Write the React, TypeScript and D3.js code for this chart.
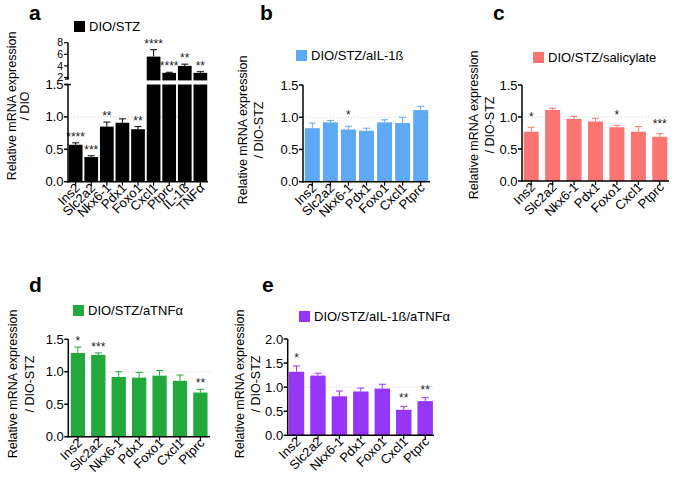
import React, { useRef, useEffect } from 'react';
import * as d3 from 'd3';

// gene labels
const genes = ['Ins2', 'Slc2a2', 'Nkx6-1', 'Pdx1', 'Foxo1', 'Cxcl1', 'Ptprc'];
const genesA = ['Ins2', 'Slc2a2', 'Nkx6-1', 'Pdx1', 'Foxo1', 'Cxcl1', 'Ptprc', 'IL-1ß', 'TNFα'];

// a: DIO/STZ vs DIO
const valuesA = [0.57, 0.38, 0.85, 0.91, 0.81, 5.6, 2.8, 4.0, 2.8];
const errorsA = [0.03, 0.02, 0.07, 0.06, 0.04, 1.2, 0.1, 0.3, 0.2];
const starsA = ['****', '***', '**', '', '**', '****', '****', '**', '**'];

// b: aIL-1ß
const valuesB = [0.83, 0.92, 0.81, 0.79, 0.92, 0.91, 1.11];
const errorsB = [0.08, 0.03, 0.05, 0.04, 0.04, 0.09, 0.06];
const starsB = ['', '', '*', '', '', '', ''];

// c: salicylate
const valuesC = [0.77, 1.11, 0.97, 0.93, 0.84, 0.77, 0.69];
const errorsC = [0.07, 0.03, 0.04, 0.05, 0.03, 0.08, 0.05];
const starsC = ['*', '', '', '', '*', '', '***'];

// d: aTNFα
const valuesD = [1.29, 1.26, 0.92, 0.91, 0.94, 0.86, 0.68];
const errorsD = [0.09, 0.03, 0.08, 0.08, 0.08, 0.09, 0.05];
const starsD = ['*', '***', '', '', '', '', '**'];

// e: aIL-1ß/aTNFα
const valuesE = [1.32, 1.24, 0.81, 0.91, 0.97, 0.53, 0.71];
const errorsE = [0.12, 0.05, 0.11, 0.07, 0.09, 0.07, 0.07];
const starsE = ['*', '', '', '', '', '**', '**'];

const FONT = 'Liberation Sans, Arial, Helvetica, sans-serif';

const drawPanel = (svg, p) => {
  const g = svg.append('g');
  const x = d3
    .scaleBand()
    .domain(p.labels)
    .range([p.x0, p.x1])
    .paddingInner(p.pad)
    .paddingOuter(p.outer);
  const y = d3.scaleLinear().domain(p.domain).range([p.y0, p.yTop]);
  const top = p.domain[1];

  // dotted line at 1.0
  g.append('line')
    .attr('x1', p.x0)
    .attr('x2', p.x1)
    .attr('y1', y(1))
    .attr('y2', y(1))
    .attr('stroke', '#cfcfcf')
    .attr('stroke-width', 1)
    .attr('stroke-dasharray', '1,2');

  const rows = p.labels.map((l, i) => ({ l, v: p.values[i], e: p.errors[i], s: p.stars[i] }));

  // bars (lower segment)
  g.selectAll('.bar')
    .data(rows)
    .enter()
    .append('rect')
    .attr('x', (d) => x(d.l))
    .attr('width', x.bandwidth())
    .attr('y', (d) => y(Math.min(d.v, top)))
    .attr('height', (d) => p.y0 - y(Math.min(d.v, top)))
    .attr('fill', p.color);

  let yUp = null;
  if (p.upper) {
    yUp = d3.scaleLinear().domain(p.upper.domain).range(p.upper.range);
    g.selectAll('.barUp')
      .data(rows.filter((d) => d.v > top))
      .enter()
      .append('rect')
      .attr('x', (d) => x(d.l))
      .attr('width', x.bandwidth())
      .attr('y', (d) => yUp(d.v))
      .attr('height', (d) => yUp(p.upper.domain[0]) - yUp(d.v))
      .attr('fill', p.color);
  }

  const yPos = (v) => (v > top && yUp ? yUp(v) : y(v));

  // error bars, upper half only
  const cap = 3.5;
  rows.forEach((d) => {
    const cx = x(d.l) + x.bandwidth() / 2;
    const yv = yPos(d.v);
    const ye = yPos(d.v + d.e);
    g.append('line')
      .attr('x1', cx).attr('x2', cx)
      .attr('y1', yv).attr('y2', ye)
      .attr('stroke', p.errColor).attr('stroke-width', 1);
    g.append('line')
      .attr('x1', cx - cap).attr('x2', cx + cap)
      .attr('y1', ye).attr('y2', ye)
      .attr('stroke', p.errColor).attr('stroke-width', 1);
    if (d.s) {
      g.append('text')
        .attr('x', cx)
        .attr('y', ye - 2 - p.starGap)
        .attr('text-anchor', 'middle')
        .attr('font-family', FONT)
        .attr('font-size', 12)
        .attr('fill', '#222')
        .text(d.s);
    }
  });

  // y axis
  g.append('line')
    .attr('x1', p.x0).attr('x2', p.x0)
    .attr('y1', p.y0 + 0.75).attr('y2', p.yTop)
    .attr('stroke', '#000').attr('stroke-width', 1.5);
  p.ticks.forEach((t) => {
    g.append('line')
      .attr('x1', p.x0 - 4).attr('x2', p.x0)
      .attr('y1', y(t)).attr('y2', y(t))
      .attr('stroke', '#000').attr('stroke-width', 1.5);
    g.append('text')
      .attr('x', p.x0 - 4.5)
      .attr('y', y(t))
      .attr('dy', '0.35em')
      .attr('text-anchor', 'end')
      .attr('font-family', FONT)
      .attr('font-size', 13)
      .text(d3.format('.1f')(t));
  });

  if (p.upper) {
    const r = p.upper.range;
    g.append('line')
      .attr('x1', p.x0).attr('x2', p.x0)
      .attr('y1', r[0] - 1).attr('y2', r[1])
      .attr('stroke', '#000').attr('stroke-width', 1.5);
    // break marks
    g.append('line')
      .attr('x1', p.x0 - 3).attr('x2', p.x0 + 1)
      .attr('y1', r[0] - 1).attr('y2', r[0] - 2)
      .attr('stroke', '#000').attr('stroke-width', 1.2);
    g.append('line')
      .attr('x1', p.x0 - 3).attr('x2', p.x0 + 3)
      .attr('y1', p.yTop).attr('y2', p.yTop)
      .attr('stroke', '#000').attr('stroke-width', 1.5);
    p.upper.ticks.forEach((t) => {
      g.append('line')
        .attr('x1', p.x0 - 4).attr('x2', p.x0)
        .attr('y1', yUp(t)).attr('y2', yUp(t))
        .attr('stroke', '#000').attr('stroke-width', 1.2);
      g.append('text')
        .attr('x', p.x0 - 5)
        .attr('y', yUp(t))
        .attr('dy', '0.35em')
        .attr('text-anchor', 'end')
        .attr('font-family', FONT)
        .attr('font-size', 10.5)
        .text(t);
    });
  }

  // x axis
  g.append('line')
    .attr('x1', p.x0 - 0.75).attr('x2', p.x1)
    .attr('y1', p.y0).attr('y2', p.y0)
    .attr('stroke', '#000').attr('stroke-width', 1.5);
  p.labels.forEach((l) => {
    const cx = x(l) + x.bandwidth() / 2;
    g.append('line')
      .attr('x1', cx).attr('x2', cx)
      .attr('y1', p.y0).attr('y2', p.y0 + 4)
      .attr('stroke', '#000').attr('stroke-width', 1.2);
    g.append('text')
      .attr('transform', `translate(${cx + 5}, ${p.y0 + 7}) rotate(-45)`)
      .attr('text-anchor', 'end')
      .attr('font-family', FONT)
      .attr('font-size', 13)
      .text(l);
  });

  // y title
  p.titles.forEach((t, i) => {
    g.append('text')
      .attr('transform', `translate(${p.titleX[i]}, ${p.titleY}) rotate(-90)`)
      .attr('dy', '0.35em')
      .attr('text-anchor', 'middle')
      .attr('font-family', FONT)
      .attr('font-size', 12.5)
      .text(t);
  });

  // legend
  g.append('rect')
    .attr('x', p.legend[0])
    .attr('y', p.legend[1])
    .attr('width', 11)
    .attr('height', 11)
    .attr('fill', p.color);
  g.append('text')
    .attr('x', p.legend[0] + 15)
    .attr('y', p.legend[1] + 10)
    .attr('font-family', FONT)
    .attr('font-size', 13)
    .text(p.name);

  // panel letter
  g.append('text')
    .attr('x', p.letterPos[0])
    .attr('y', p.letterPos[1])
    .attr('font-family', FONT)
    .attr('font-size', 21)
    .attr('font-weight', 'bold')
    .text(p.letter);
};

const App = () => {
  const ref = useRef(null);

  useEffect(() => {
    const svg = d3.select(ref.current);
    svg.selectAll('*').remove();
    const ticks15 = [0, 0.5, 1, 1.5];

    drawPanel(svg, {
      letter: 'a', letterPos: [29, 20], name: 'DIO/STZ', legend: [74, 21],
      labels: genesA, values: valuesA, errors: errorsA, stars: starsA,
      color: '#000', errColor: '#000',
      x0: 68, x1: 208, pad: 0.12, outer: 0.05,
      y0: 181.7, yTop: 84.5, domain: [0, 1.5], ticks: ticks15,
      upper: { domain: [1.5, 8], range: [80.4, 42.7], ticks: [2, 4, 6, 8] },
      titles: ['Relative mRNA expression', '/ DIO'], titleX: [12, 25], titleY: 106, starGap: 0,
    });
    drawPanel(svg, {
      letter: 'b', letterPos: [260, 19.5], name: 'DIO/STZ/aIL-1ß', legend: [296, 50],
      labels: genes, values: valuesB, errors: errorsB, stars: starsB,
      color: '#5ea9f4', errColor: '#5ea9f4',
      x0: 303, x1: 430, pad: 0.17, outer: 0.1,
      y0: 181.7, yTop: 85, domain: [0, 1.5], ticks: ticks15,
      titles: ['Relative mRNA expression', '/ DIO-STZ'], titleX: [243, 259], titleY: 130, starGap: 5,
    });
    drawPanel(svg, {
      letter: 'c', letterPos: [493, 19.5], name: 'DIO/STZ/salicylate', legend: [533, 52],
      labels: genes, values: valuesC, errors: errorsC, stars: starsC,
      color: '#fa7472', errColor: '#fa7472',
      x0: 522, x1: 669, pad: 0.3, outer: 0.08,
      y0: 181, yTop: 85, domain: [0, 1.5], ticks: ticks15,
      titles: ['Relative mRNA expression', '/ DIO-STZ'], titleX: [474, 490], titleY: 125, starGap: 4,
    });
    drawPanel(svg, {
      letter: 'd', letterPos: [29, 292], name: 'DIO/STZ/aTNFα', legend: [73, 305],
      labels: genes, values: valuesD, errors: errorsD, stars: starsD,
      color: '#22a83c', errColor: '#22a83c',
      x0: 68.3, x1: 210, pad: 0.3, outer: 0.12,
      y0: 436.7, yTop: 339.3, domain: [0, 1.5], ticks: ticks15,
      titles: ['Relative mRNA expression', '/ DIO-STZ'], titleX: [13, 30], titleY: 384, starGap: 0,
    });
    drawPanel(svg, {
      letter: 'e', letterPos: [262, 292], name: 'DIO/STZ/aIL-1ß/aTNFα', legend: [299, 311],
      labels: genes, values: valuesE, errors: errorsE, stars: starsE,
      color: '#9636f6', errColor: '#9636f6',
      x0: 287.7, x1: 434, pad: 0.28, outer: 0.05,
      y0: 435.3, yTop: 339, domain: [0, 2], ticks: [0, 0.5, 1, 1.5, 2],
      titles: ['Relative mRNA expression', '/ DIO-STZ'], titleX: [240, 256], titleY: 384, starGap: 2,
    });
  }, []);

  return (
    <svg
      ref={ref}
      width={675}
      height={479}
      style={{ position: 'absolute', left: 0, top: 0, background: '#fff' }}
    />
  );
};

export default App;
